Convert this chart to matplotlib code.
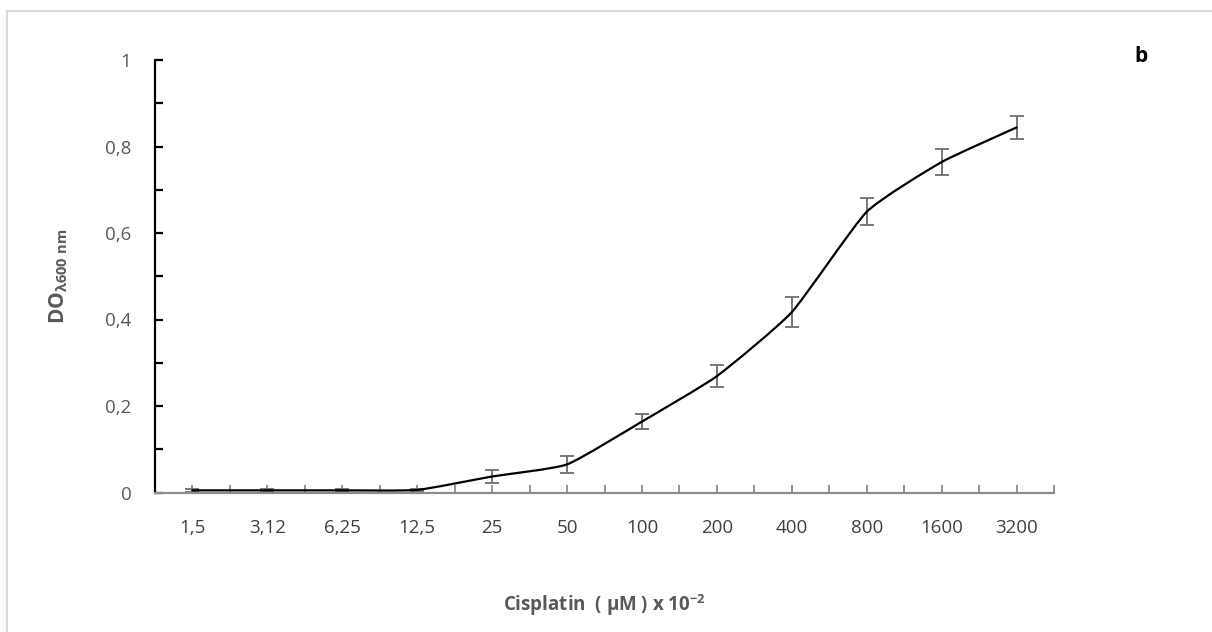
import matplotlib
matplotlib.use("Agg")
import matplotlib.pyplot as plt
from matplotlib.path import Path
from matplotlib.patches import PathPatch
from matplotlib.lines import Line2D
from matplotlib.ticker import MultipleLocator, FixedLocator, NullFormatter
import numpy as np

plt.rcParams['font.family'] = ['Open Sans', 'DejaVu Sans']
plt.rcParams['mathtext.fontset'] = 'custom'
plt.rcParams['mathtext.rm'] = 'Open Sans'
plt.rcParams['mathtext.bf'] = 'Open Sans:bold'
plt.rcParams['mathtext.it'] = 'Open Sans:italic'
plt.rcParams['mathtext.fallback'] = 'stixsans'

# Cisplatin concentrations (µM x 10^-2) and optical density at 600 nm
concentrations = ["1,5", "3,12", "6,25", "12,5", "25", "50", "100",
                  "200", "400", "800", "1600", "3200"]
od600 = [0.005, 0.005, 0.005, 0.006, 0.037, 0.065, 0.164,
         0.269, 0.417, 0.649, 0.764, 0.844]
od600_err = [0.003, 0.003, 0.003, 0.003, 0.015, 0.020, 0.018,
             0.025, 0.035, 0.031, 0.030, 0.027]
y_ticks = [0, 0.2, 0.4, 0.6, 0.8, 1]
y_tick_labels = ["0", "0,2", "0,4", "0,6", "0,8", "1"]

fig = plt.figure(figsize=(12.12, 6.32), dpi=100)
ax = fig.add_axes([155 / 1212, 1 - 492.5 / 632, (1054 - 155) / 1212, (492.5 - 60) / 632])

x = np.arange(len(concentrations))
y = np.array(od600)

# Gently smoothed curve through the points (low-tension cubic Bezier segments)
tension = 1.0 / 12.0
pts = np.column_stack([x, y]).astype(float)
ext = np.vstack([pts[0], pts, pts[-1]])
verts = [tuple(pts[0])]
codes = [Path.MOVETO]
for i in range(len(pts) - 1):
    p0, p1, p2, p3 = ext[i], ext[i + 1], ext[i + 2], ext[i + 3]
    c1 = p1 + (p2 - p0) * tension
    c2 = p2 - (p3 - p1) * tension
    verts += [tuple(c1), tuple(c2), tuple(p2)]
    codes += [Path.CURVE4] * 3
curve = PathPatch(Path(verts, codes), facecolor='none', edgecolor='black',
                  linewidth=1.6, zorder=3, capstyle='round', joinstyle='round')
ax.add_patch(curve)

ax.errorbar(x, y, yerr=od600_err, fmt='none', ecolor='#6d6d6d',
            elinewidth=1.3, capsize=5, capthick=1.3, zorder=2)

ax.set_xlim(-0.5, len(concentrations) - 0.5)
ax.set_ylim(0, 1)

# Axes styling
for side in ('top', 'right'):
    ax.spines[side].set_visible(False)
ax.spines['left'].set_color('black')
ax.spines['left'].set_linewidth(1.6)
ax.spines['bottom'].set_color('#8c8c8c')
ax.spines['bottom'].set_linewidth(1.6)

ax.yaxis.set_major_locator(FixedLocator(y_ticks))
ax.set_yticklabels(y_tick_labels)
ax.yaxis.set_minor_locator(MultipleLocator(0.1))
ax.tick_params(axis='y', which='both', direction='in', length=6, width=1.6,
               color='black', labelsize=13.5, labelcolor='#595959', pad=17)

ax.set_xticks(x)
ax.set_xticklabels(concentrations)
ax.xaxis.set_minor_locator(FixedLocator(np.arange(-0.5, len(concentrations), 1.0)))
ax.xaxis.set_minor_formatter(NullFormatter())
ax.tick_params(axis='x', which='both', direction='in', length=6, width=1.3,
               color='#8c8c8c', labelsize=13.5, labelcolor='#404040', pad=19)

ax.set_xlabel(r'Cisplatin  ( µM ) x 10$^{\mathbf{-2}}$', fontsize=13.5,
              fontweight='bold', color='#595959', labelpad=40)
ax.set_ylabel(r'DO$_{\mathbf{\lambda 600\ nm}}$', fontsize=15,
              fontweight='bold', color='#595959', labelpad=25)

fig.text(1141 / 1212, 1 - 57 / 632, 'b', fontsize=15, fontweight='bold',
         color='black', ha='center', va='center')

# Chart area frame
fig.add_artist(Line2D([7 / 1212, 1], [1 - 11 / 632, 1 - 11 / 632],
                      transform=fig.transFigure, color='#d9d9d9', linewidth=1.5))
fig.add_artist(Line2D([7 / 1212, 7 / 1212], [0, 1 - 11 / 632],
                      transform=fig.transFigure, color='#d9d9d9', linewidth=1.5))

fig.savefig('out.png', dpi=100, facecolor='white')
